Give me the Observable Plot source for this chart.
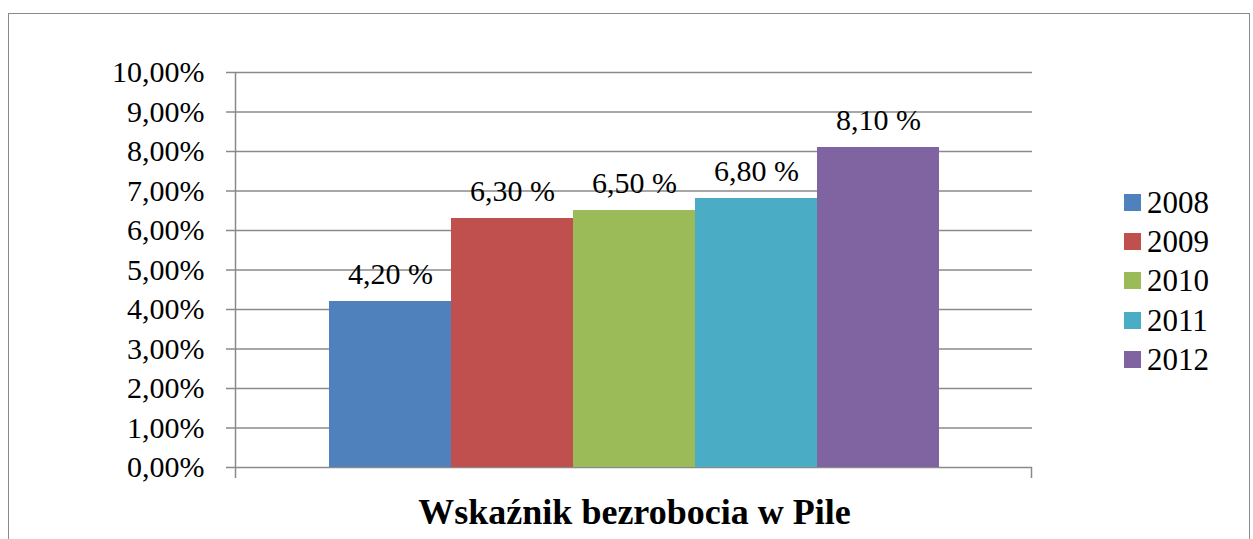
<!DOCTYPE html>
<html>
<head>
<meta charset="utf-8">
<script src="https://cdn.jsdelivr.net/npm/d3@7"></script>
<script src="https://cdn.jsdelivr.net/npm/@observablehq/plot@0.6"></script>
<style>
  body { margin: 0; background: #fff; font-family: 'Liberation Serif', serif; }
  #wrap { position: relative; width: 1253px; height: 539px; overflow: hidden; font-family: 'Liberation Serif', serif; }
  #wrap svg { position: absolute; left: 0; top: 0; font-family: 'Liberation Serif', serif; }
  #wrap svg text { font-family: 'Liberation Serif', serif; }
  #border { position: absolute; left: 7.5px; top: 12.5px; width: 1242px; height: 700px;
            border: 1.5px solid #8a8a8a; box-sizing: border-box; pointer-events: none; }
  #legend { position: absolute; left: 1124px; top: 182.7px; }
  .row { display: flex; align-items: center; height: 39.3px; line-height: 39.3px; }
  .sw { width: 17px; height: 17px; margin-right: 6px; }
  .lab { font-size: 31px; color: #000; font-family: 'Liberation Serif', serif; }
</style>
</head>
<body>
<div id="wrap"><div id="border"></div></div>
<script>
const years = ["2008", "2009", "2010", "2011", "2012"];
const rates = [4.2, 6.3, 6.5, 6.8, 8.1];
const colors = ["#4F81BD", "#C0504D", "#9BBB59", "#4BACC6", "#8064A2"];
const yTicks = [0, 1, 2, 3, 4, 5, 6, 7, 8, 9, 10];
const title = "Wskaźnik bezrobocia w Pile";

const data = years.map((year, i) => ({year, rate: rates[i]}));
const fmtTick = v => v.toFixed(2).replace(".", ",") + "%";
const fmtLabel = v => v.toFixed(2).replace(".", ",") + " %";
const grid = "#8a8a8a";
const serif = "'Liberation Serif', serif";

// axis lines (left value axis and the category-axis edge ticks)
const axisLines = (index, scales, values, dims) => {
  const {marginLeft, marginRight, width} = dims;
  const y0 = scales.y(yTicks[0]);
  const yTop = scales.y(yTicks[yTicks.length - 1]);
  const xl = marginLeft - 0.5;
  const xr = width - marginRight - 0.5;
  const g = d3.create("svg:g").attr("stroke", grid).attr("stroke-width", 1.5).attr("fill", "none");
  g.append("line").attr("x1", xl).attr("x2", xl).attr("y1", yTop).attr("y2", y0 + 11);
  g.append("line").attr("x1", xr).attr("x2", xr).attr("y1", y0).attr("y2", y0 + 11);
  return g.node();
};

const chart = Plot.plot({
  width: 1253,
  height: 539,
  marginLeft: 236,
  marginRight: 221,
  marginTop: 72,
  marginBottom: 72,
  style: {background: "transparent", fontFamily: serif, fontSize: "30px", color: "#000", overflow: "visible"},
  x: {type: "band", domain: years, paddingInner: 0, paddingOuter: 0.745, axis: null},
  y: {domain: [0, 10], axis: null, label: null},
  color: {domain: years, range: colors},
  marks: [
    Plot.ruleY(yTicks, {stroke: grid, strokeWidth: 1.5}),
    Plot.barY(data, {x: "year", y: "rate", fill: "year", shapeRendering: "crispEdges"}),
    Plot.text(data, {x: "year", y: "rate", text: d => fmtLabel(d.rate), lineAnchor: "bottom", dy: -18, fontSize: 30, fontFamily: serif, fill: "#000"}),
    Plot.axisY({ticks: yTicks, tickSize: 10, tickPadding: 22, tickFormat: fmtTick, stroke: grid, strokeWidth: 1.5, fill: "#000", fontSize: 30, fontFamily: serif, label: null}),
    axisLines,
    Plot.text([title], {text: d => d, frameAnchor: "bottom", lineAnchor: "bottom", dy: 56, fontSize: 36, fontWeight: "bold", fontFamily: serif, fill: "#000"})
  ]
});

const wrap = document.getElementById("wrap");
wrap.insertBefore(chart, wrap.firstChild);

const legend = d3.select(wrap).append("div").attr("id", "legend");
years.forEach((y, i) => {
  const row = legend.append("div").attr("class", "row");
  row.append("div").attr("class", "sw").style("background", colors[i]);
  row.append("span").attr("class", "lab").text(y);
});
</script>
</body>
</html>
